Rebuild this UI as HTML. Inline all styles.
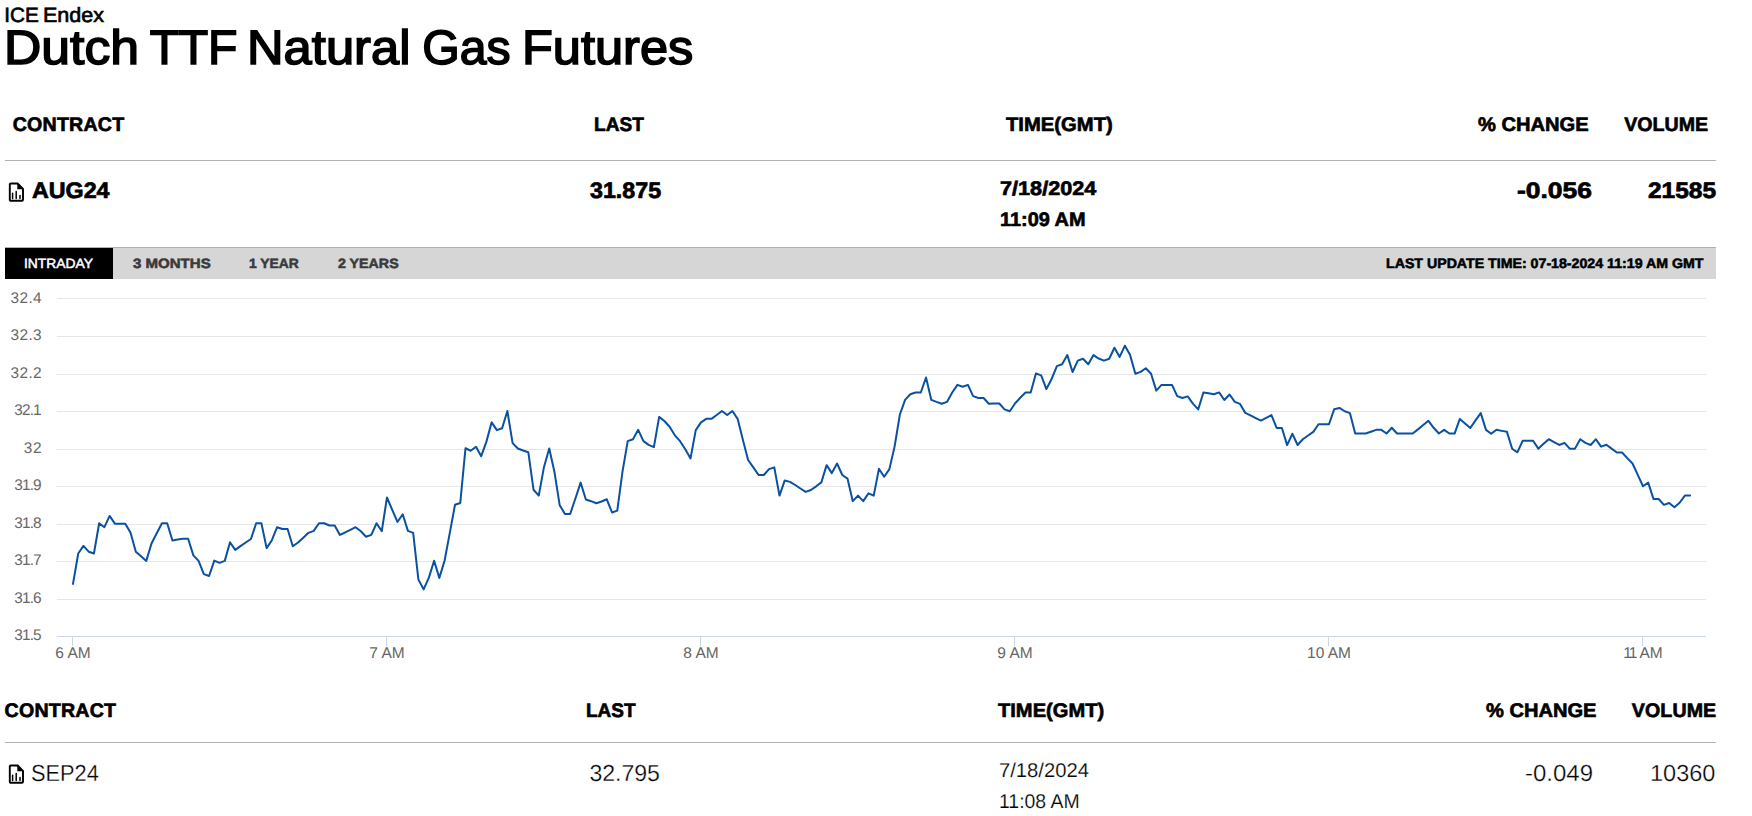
<!DOCTYPE html>
<html lang="en">
<head>
<meta charset="utf-8">
<title>Dutch TTF Natural Gas Futures | ICE Endex</title>
<style>
html,body{margin:0;padding:0;background:#fff;}
body{text-rendering:geometricPrecision;width:1752px;height:816px;overflow:hidden;position:relative;font-family:"Liberation Sans", Arial, Helvetica, sans-serif;color:#000;}
.page{position:absolute;left:0;top:0;width:1752px;height:816px;}
.t{position:absolute;display:block;margin:0;padding:0;line-height:1;white-space:pre;font-weight:400;transform-origin:0 50%;}
h1,ul,li{margin:0;padding:0;font-size:inherit;font-weight:inherit;list-style:none;}
a.t{text-decoration:none;cursor:pointer;}
.rule{position:absolute;left:5px;width:1711px;height:1px;background:#b3b3b3;}
.tabs{position:absolute;left:5px;top:247px;width:1711px;height:31px;background:#d6d6d6;border-top:1px solid #b0b0b0;}
.tabs .on{position:absolute;left:0;top:0;width:108px;height:31px;background:#000;}
.chart{position:absolute;left:0;top:280px;font-family:"Liberation Sans", Arial, Helvetica, sans-serif;}
.ico{position:absolute;}
#sw1{left:4.37px;top:6.05px;font-size:20.71px;-webkit-text-stroke:0.65px #000;letter-spacing:-0.044px;}
#sw2{left:43.17px;top:6.05px;font-size:20.71px;-webkit-text-stroke:0.65px #000;transform:scaleX(1.0401);}
#tw1{left:4.3px;top:24.02px;font-size:48.18px;-webkit-text-stroke:1.6px #000;transform:scaleX(1.0733);}
#tw2{left:149.71px;top:24.02px;font-size:48.18px;-webkit-text-stroke:1.6px #000;letter-spacing:-0.303px;}
#tw3{left:247.17px;top:24.02px;font-size:48.18px;-webkit-text-stroke:1.6px #000;transform:scaleX(1.0522);}
#tw4{left:422.34px;top:24.02px;font-size:48.18px;-webkit-text-stroke:1.6px #000;letter-spacing:0.011px;}
#tw5{left:521.78px;top:24.02px;font-size:48.18px;-webkit-text-stroke:1.6px #000;transform:scaleX(1.0485);}
#h1a{left:12.76px;top:115.55px;font-size:19.62px;font-weight:700;-webkit-text-stroke:0.65px #000;letter-spacing:0.200px;}
#h1b{left:594.24px;top:115.55px;font-size:19.62px;font-weight:700;-webkit-text-stroke:0.65px #000;transform:scaleX(0.9730);}
#h1c{left:1005.94px;top:115.55px;font-size:19.62px;font-weight:700;-webkit-text-stroke:0.65px #000;transform:scaleX(1.0314);}
#h1d{left:1477.6px;top:115.55px;font-size:19.62px;font-weight:700;-webkit-text-stroke:0.65px #000;transform:scaleX(1.0259);}
#h1e{left:1624.13px;top:115.55px;font-size:19.62px;font-weight:700;-webkit-text-stroke:0.65px #000;letter-spacing:0.031px;}
#r1a{left:31.73px;top:179.6px;font-size:22.38px;font-weight:700;-webkit-text-stroke:0.7px #000;transform:scaleX(1.0386);}
#r1b{left:590.49px;top:179.6px;font-size:22.38px;font-weight:700;-webkit-text-stroke:0.7px #000;transform:scaleX(1.0385);}
#r1c{left:1000.31px;top:179.65px;font-size:19.62px;font-weight:700;-webkit-text-stroke:0.65px #000;transform:scaleX(1.1040);}
#r1c2{left:1000.18px;top:210.55px;font-size:19.62px;font-weight:700;-webkit-text-stroke:0.65px #000;transform:scaleX(1.0152);}
#r1d{left:1517.25px;top:179.6px;font-size:22.38px;font-weight:700;-webkit-text-stroke:0.7px #000;transform:scaleX(1.1798);}
#r1e{left:1647.62px;top:179.6px;font-size:22.38px;font-weight:700;-webkit-text-stroke:0.7px #000;transform:scaleX(1.0928);}
#tab1{left:24.38px;top:256.61px;font-size:13.59px;color:#fff;-webkit-text-stroke:0.5px #fff;transform:scaleX(1.0181);}
#tab2{left:132.58px;top:256.61px;font-size:13.52px;font-weight:700;color:#3a3a3a;-webkit-text-stroke:0.55px #3a3a3a;transform:scaleX(1.1122);}
#tab3{left:248.5px;top:256.61px;font-size:13.52px;font-weight:700;color:#3a3a3a;-webkit-text-stroke:0.55px #3a3a3a;transform:scaleX(1.0256);}
#tab4{left:337.8px;top:256.61px;font-size:13.52px;font-weight:700;color:#3a3a3a;-webkit-text-stroke:0.55px #3a3a3a;transform:scaleX(1.0529);}
#upd{left:1385.78px;top:256.75px;font-size:13.74px;font-weight:700;-webkit-text-stroke:0.55px #000;transform:scaleX(1.0320);}
#h2a{left:4.61px;top:701.6px;font-size:19.62px;font-weight:700;-webkit-text-stroke:0.65px #000;letter-spacing:0.207px;}
#h2b{left:586.34px;top:701.6px;font-size:19.62px;font-weight:700;-webkit-text-stroke:0.65px #000;transform:scaleX(0.9671);}
#h2c{left:998.34px;top:701.6px;font-size:19.62px;font-weight:700;-webkit-text-stroke:0.65px #000;transform:scaleX(1.0256);}
#h2d{left:1485.8px;top:701.6px;font-size:19.62px;font-weight:700;-webkit-text-stroke:0.65px #000;transform:scaleX(1.0241);}
#h2e{left:1631.83px;top:701.6px;font-size:19.62px;font-weight:700;-webkit-text-stroke:0.65px #000;letter-spacing:0.091px;}
#r2a{left:31.13px;top:762.11px;font-size:23.11px;-webkit-text-stroke:0.3px #fff;transform:scaleX(0.9419);}
#r2b{left:589.53px;top:762.11px;font-size:23.11px;-webkit-text-stroke:0.3px #fff;letter-spacing:-0.077px;}
#r2c{left:999.43px;top:761.7px;font-size:19.91px;-webkit-text-stroke:0.2px #fff;transform:scaleX(1.0157);}
#r2c2{left:999.39px;top:792.8px;font-size:19.91px;-webkit-text-stroke:0.2px #fff;transform:scaleX(0.9759);}
#r2d{left:1524.68px;top:762.11px;font-size:23.11px;-webkit-text-stroke:0.3px #fff;transform:scaleX(1.0378);}
#r2e{left:1650.45px;top:762.11px;font-size:23.11px;-webkit-text-stroke:0.3px #fff;transform:scaleX(1.0170);}
</style>
</head>
<body>
<div class="page">
<header class="product-header">
<div class="kicker"><span id="sw1" class="t">ICE</span> <span id="sw2" class="t">Endex</span></div>
<h1><span id="tw1" class="t">Dutch</span> <span id="tw2" class="t">TTF</span> <span id="tw3" class="t">Natural</span> <span id="tw4" class="t">Gas</span> <span id="tw5" class="t">Futures</span></h1>
</header>
<main>
<section class="quote front-month" aria-label="Front month contract">
<div class="thead" role="row"><span id="h1a" class="t">CONTRACT</span><span id="h1b" class="t">LAST</span><span id="h1c" class="t">TIME(GMT)</span><span id="h1d" class="t">% CHANGE</span><span id="h1e" class="t">VOLUME</span></div>
<div class="rule" style="top:160px"></div>
<div class="trow" role="row">
<svg class="ico" style="left:8px;top:182px" width="17" height="20" viewBox="0 0 17 20" aria-hidden="true"><path d="M2.9 1.5H9.6L15 6.9V17.7Q15 18.8 13.9 18.8H2.9Q1.8 18.8 1.8 17.7V2.6Q1.8 1.5 2.9 1.5Z" fill="none" stroke="#000" stroke-width="1.9" stroke-linejoin="round"/><path d="M9.3 1.6V7.2H14.9Z" fill="#000"/><path d="M4.6 11.2V16.6M8.2 9.4V16.6M12 13.4V16.6" stroke="#000" stroke-width="1.5" stroke-linecap="round" fill="none"/></svg>
<a id="r1a" class="t">AUG24</a><span id="r1b" class="t">31.875</span><time><span id="r1c" class="t">7/18/2024</span><span id="r1c2" class="t">11:09 AM</span></time><span id="r1d" class="t">-0.056</span><span id="r1e" class="t">21585</span>
</div>
</section>
<section class="chart-panel" aria-label="Price chart">
<nav class="tabs"><div class="on"></div></nav>
<ul class="tablist">
<li><a id="tab1" class="t">INTRADAY</a></li><li><a id="tab2" class="t">3 MONTHS</a></li><li><a id="tab3" class="t">1 YEAR</a></li><li><a id="tab4" class="t">2 YEARS</a></li>
</ul>
<span id="upd" class="t">LAST UPDATE TIME: 07-18-2024 11:19 AM GMT</span>
<svg class="chart" width="1716" height="400" viewBox="0 280 1716 400" role="img" aria-label="AUG24 intraday price chart">
<g class="grid" stroke="#e6e6e6" stroke-width="1" shape-rendering="crispEdges">
<path d="M57 298.5H1706"/>
<path d="M57 336.5H1706"/>
<path d="M57 374.5H1706"/>
<path d="M57 411.5H1706"/>
<path d="M57 449.5H1706"/>
<path d="M57 486.5H1706"/>
<path d="M57 524.5H1706"/>
<path d="M57 561.5H1706"/>
<path d="M57 599.5H1706"/>
</g>
<g class="axis" stroke="#ccd6eb" stroke-width="1" shape-rendering="crispEdges"><path d="M57 636.5H1706"/>
<path d="M72.5 636v10"/>
<path d="M386.5 636v10"/>
<path d="M700.5 636v10"/>
<path d="M1014.5 636v10"/>
<path d="M1328.5 636v10"/>
<path d="M1642.5 636v10"/>
</g>
<g class="ylab" fill="#666" font-size="15.4" text-anchor="end">
<text x="41.6" y="303" textLength="31.1" lengthAdjust="spacing">32.4</text>
<text x="41.6" y="340" textLength="31.1" lengthAdjust="spacing">32.3</text>
<text x="41.6" y="378" textLength="31.1" lengthAdjust="spacing">32.2</text>
<text x="41.6" y="415" textLength="27.3" lengthAdjust="spacing">32.1</text>
<text x="41.6" y="453" textLength="17.8" lengthAdjust="spacing">32</text>
<text x="41.6" y="490" textLength="27.3" lengthAdjust="spacing">31.9</text>
<text x="41.6" y="528" textLength="27.3" lengthAdjust="spacing">31.8</text>
<text x="41.6" y="565" textLength="27.3" lengthAdjust="spacing">31.7</text>
<text x="41.6" y="603" textLength="27.3" lengthAdjust="spacing">31.6</text>
<text x="41.6" y="640" textLength="27.3" lengthAdjust="spacing">31.5</text>
</g>
<g class="xlab" fill="#666" font-size="15.5" text-anchor="middle">
<text x="73" y="657.6">6 AM</text>
<text x="387" y="657.6">7 AM</text>
<text x="701" y="657.6">8 AM</text>
<text x="1015" y="657.6">9 AM</text>
<text x="1329" y="657.6">10 AM</text>
<text x="1643" y="657.6">1<tspan dx="-2">1</tspan><tspan dx="-1.3"> AM</tspan></text>
</g>
<polyline class="series" fill="none" stroke="#0a51a1" stroke-width="2" stroke-linejoin="round" stroke-linecap="round" points="73,583.92 78.23,553.54 83.47,545.94 88.7,551.7 93.93,553.54 99.17,523.28 104.4,527.2 109.63,515.93 114.87,523.64 120.1,523.64 125.33,523.64 130.57,532.83 135.8,551.7 141.03,556.36 146.27,560.89 151.5,543.49 156.73,533.32 161.97,523.28 167.2,523.28 172.43,540.43 177.67,539.45 182.9,538.71 188.13,538.71 193.37,555.38 198.6,560.89 203.83,574.12 209.07,575.96 214.3,560.64 219.53,562.85 224.77,560.89 230,542.27 235.23,549.86 240.47,546.19 245.7,542.51 250.93,538.96 256.17,523.28 261.4,523.28 266.63,548.15 271.87,540.18 277.1,527.2 282.33,529.04 287.57,529.04 292.8,546.31 298.03,542.51 303.27,537.73 308.5,532.83 313.73,530.87 318.97,523.28 324.2,523.28 329.43,525.48 334.67,525.48 339.9,534.92 345.13,532.47 350.37,529.77 355.6,527.2 360.83,531.24 366.07,536.75 371.3,534.92 376.53,523.28 381.77,531.11 387,497.41 392.23,509.95 397.47,521.95 402.7,514.26 407.93,530.84 413.17,532.86 418.4,579.64 423.63,589.34 428.87,577.62 434.1,560.77 439.33,577.89 444.57,560.77 449.8,532.86 455.03,504.71 460.27,502.94 465.5,448.24 470.73,450.74 475.97,446.76 481.2,456.18 486.43,441.62 491.67,422.35 496.9,430.15 502.13,428.24 507.37,411.03 512.6,443.09 517.83,448.53 523.07,450.44 528.3,452.21 533.53,489.71 538.77,495.59 544,466.91 549.23,448.53 554.47,472.06 559.7,505.15 564.93,513.97 570.17,513.97 575.4,498.53 580.63,482.65 585.87,499.56 591.1,501.18 596.33,503.24 601.57,501.47 606.8,499.26 612.03,512.5 617.27,510.59 622.5,471.62 627.73,441.18 632.97,439.26 638.2,429.85 643.43,441.18 648.67,444.85 653.9,447.06 659.13,416.91 664.37,421.03 669.6,426.76 674.83,435.29 680.07,441.18 685.3,449.26 690.53,458.38 695.77,430.15 701,422.35 706.23,418.82 711.47,418.82 716.7,415 721.93,411.03 727.17,415 732.4,411.03 737.63,418.82 742.87,439.71 748.1,460 753.33,467.35 758.57,475 763.8,475 769.03,469.12 774.27,467.35 779.5,495.59 784.73,480.44 789.97,481.91 795.2,485 800.43,488.53 805.67,491.91 810.9,490 816.13,486.32 821.37,482.35 826.6,465.15 831.83,473.09 837.07,463.53 842.3,475 847.53,478.68 852.77,501.18 858,495.59 863.23,501.18 868.47,493.38 873.7,495.59 878.93,468.82 884.17,476.76 889.4,469.12 894.63,446.37 899.87,414.52 905.1,399.82 910.33,394.3 915.57,392.47 920.8,392.47 926.03,377.52 931.27,399.82 936.5,401.9 941.73,403.74 946.97,401.9 952.2,392.47 957.43,384.87 962.67,386.71 967.9,384.87 973.13,396.14 978.37,397.98 983.6,397.98 988.83,403.74 994.07,403.49 999.3,403.49 1004.53,409.37 1009.77,411.21 1015,403.49 1020.23,397.73 1025.47,392.47 1030.7,392.47 1035.93,373.48 1041.17,375.33 1046.4,389.05 1051.63,379 1056.87,366.14 1062.1,364.3 1067.33,355.11 1072.57,372.02 1077.8,360.63 1083.03,358.79 1088.27,364.3 1093.5,355.11 1098.73,358.55 1103.97,360.63 1109.2,358.79 1114.43,347.76 1119.67,356.95 1124.9,345.68 1130.13,355.11 1135.37,373.74 1140.6,371.9 1145.83,368.22 1151.07,373.74 1156.3,390.64 1161.53,384.89 1166.77,384.89 1172,384.89 1177.23,396.16 1182.47,397.99 1187.7,396.4 1192.93,403.69 1198.17,409.45 1203.4,392.42 1208.63,393.28 1213.87,394.26 1219.1,392.42 1224.33,400.02 1229.57,394.5 1234.8,401.85 1240.03,403.94 1245.27,412.88 1250.5,415.33 1255.73,418.02 1260.97,420.6 1266.2,417.78 1271.43,415.08 1276.67,427.95 1281.9,427.95 1287.13,445.1 1292.37,433.71 1297.6,444.98 1302.83,439.22 1308.07,435.54 1313.3,431.87 1318.53,424.27 1323.77,424.27 1329,424.27 1334.23,409.2 1339.47,407.93 1344.7,411.24 1349.93,413.08 1355.17,433.54 1360.4,433.54 1365.63,433.54 1370.87,431.7 1376.1,429.86 1381.33,429.86 1386.57,433.54 1391.8,427.78 1397.03,433.54 1402.27,433.54 1407.5,433.54 1412.73,433.54 1417.97,429.37 1423.2,425.08 1428.43,420.8 1433.67,427.78 1438.9,433.54 1444.13,429.86 1449.37,433.54 1454.6,433.54 1459.83,418.96 1465.07,423.49 1470.3,428.02 1475.53,420.43 1480.77,413.08 1486,429.86 1491.23,433.69 1496.47,429.77 1501.7,430.87 1506.93,431.85 1512.17,448.76 1517.4,452.31 1522.63,440.8 1527.87,440.8 1533.1,440.8 1538.33,448.64 1543.57,443.86 1548.8,439.2 1554.03,442.02 1559.27,444.96 1564.5,442.88 1569.73,448.64 1574.97,448.64 1580.2,439.2 1585.43,442.88 1590.67,444.96 1595.9,439.2 1601.13,446.67 1606.37,444.71 1611.6,448.63 1616.83,452.45 1622.07,452.45 1627.3,458.14 1632.53,463.53 1637.77,474.8 1643,486.27 1648.23,482.65 1653.47,499.02 1658.7,499.02 1663.93,504.9 1669.17,502.94 1674.4,507.16 1679.63,502.75 1684.87,495.59 1690.1,495.59"/>
</svg>
</section>
<section class="quote next-month" aria-label="Next contract">
<div class="thead" role="row"><span id="h2a" class="t">CONTRACT</span><span id="h2b" class="t">LAST</span><span id="h2c" class="t">TIME(GMT)</span><span id="h2d" class="t">% CHANGE</span><span id="h2e" class="t">VOLUME</span></div>
<div class="rule" style="top:742px"></div>
<div class="trow" role="row">
<svg class="ico" style="left:8px;top:764px" width="17" height="20" viewBox="0 0 17 20" aria-hidden="true"><path d="M2.9 1.5H9.6L15 6.9V17.7Q15 18.8 13.9 18.8H2.9Q1.8 18.8 1.8 17.7V2.6Q1.8 1.5 2.9 1.5Z" fill="none" stroke="#000" stroke-width="1.9" stroke-linejoin="round"/><path d="M9.3 1.6V7.2H14.9Z" fill="#000"/><path d="M4.6 11.2V16.6M8.2 9.4V16.6M12 13.4V16.6" stroke="#000" stroke-width="1.5" stroke-linecap="round" fill="none"/></svg>
<a id="r2a" class="t">SEP24</a><span id="r2b" class="t">32.795</span><time><span id="r2c" class="t">7/18/2024</span><span id="r2c2" class="t">11:08 AM</span></time><span id="r2d" class="t">-0.049</span><span id="r2e" class="t">10360</span>
</div>
</section>
</main>
</div>
</body>
</html>
